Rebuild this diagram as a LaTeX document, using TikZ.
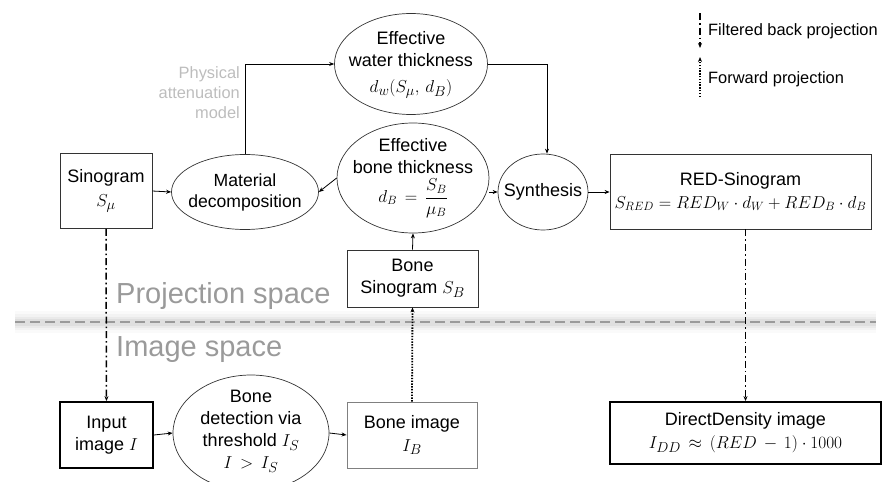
\documentclass[tikz,border=0pt]{standalone}
\usepackage{amsmath}
\usepackage{fontspec}
\setmainfont{Liberation Sans}
\usetikzlibrary{shapes.geometric,arrows.meta}

\definecolor{linegray}{HTML}{333333}
\definecolor{labelgray}{HTML}{BDBDBD}
\definecolor{spacegray}{HTML}{9A9A9A}

% math set at a chosen size inside text lines
\newcommand{\mth}[1]{{\fontsize{17}{21}\selectfont$#1$}}
\newcommand{\mthb}[1]{{\fontsize{19}{23}\selectfont$#1$}}

\tikzset{
  every node/.style={font=\fontsize{18}{22}\selectfont, align=center, inner sep=0pt},
  box/.style={draw=linegray, line width=0.8pt, rectangle},
  thickbox/.style={draw=black, line width=1.8pt, rectangle},
  graybox/.style={draw=gray, line width=0.9pt, rectangle},
  oval/.style={draw=linegray, line width=0.7pt, ellipse},
  tip/.style={-{Stealth[length=5pt,width=4pt]}},
  flow/.style={tip, line width=0.8pt, draw=black},
  fbp/.style={tip, line width=1.5pt, dash pattern=on 7pt off 3pt on 1.6pt off 3pt},
  fwd/.style={tip, line width=1.8pt, dash pattern=on 1.4pt off 1.4pt},
  smalltext/.style={font=\fontsize{16.4}{20}\selectfont},
}

\begin{document}
\begin{tikzpicture}[x=1pt, y=-1pt]
  \useasboundingbox (0,0) rectangle (892,482);

  % separator between projection space and image space, with a soft halo
  \foreach \w/\o in {22/0.04, 16/0.06, 11/0.08, 7/0.10} {
    \draw[line width=\w pt, gray, opacity=\o] (15,322) -- (876,322);
  }
  \draw[spacegray, line width=2pt, dash pattern=on 10pt off 5pt] (15,322) -- (876,322);

  \node[font=\fontsize{29}{32}\selectfont, text=spacegray, anchor=west] (proj) at (116,296) {Projection space};
  \node[font=\fontsize{29}{32}\selectfont, text=spacegray, anchor=west] (img) at (116,350) {Image space};

  % projection-space nodes (ovals keep a fixed size, their text sits on top)
  \node[box, minimum width=92pt, minimum height=75pt] (sino) at (106,191) {Sinogram\\[2pt]\mthb{S_\mu}};
  \node[oval, minimum width=147pt, minimum height=75pt] (matdec) at (245,192) {};
  \node[font=\fontsize{17.6}{21}\selectfont] (matdecT) at (matdec.center) {Material\\decomposition};
  \node[oval, minimum width=153pt, minimum height=101pt] (water) at (411,64) {};
  \node (waterT) at (411,65) {Effective\\water thickness\\[4pt]\mthb{d_w(S_\mu,\, d_B)}};
  \node[oval, minimum width=152pt, minimum height=110pt] (bone) at (413,178) {};
  \node (boneT) at (413,178) {Effective\\bone thickness\\[4pt]\mth{d_B \,=\, \dfrac{S_B}{\mu_B}}};
  \node[oval, minimum width=90pt, minimum height=76pt] (synth) at (543,192) {};
  \node (synthT) at (synth.center) {Synthesis};
  \node[box, minimum width=261pt, minimum height=75pt] (redsino) at (740.5,191.5) {RED-Sinogram\\[1pt]\mth{S_{RED} = RED_W \cdot d_W + RED_B \cdot d_B}};
  \node[box, minimum width=131pt, minimum height=57pt] (bonesino) at (412.5,278.5) {Bone\\Sinogram \mthb{S_B}};

  % image-space nodes
  \node[thickbox, minimum width=93pt, minimum height=66pt] (input) at (106.5,435) {Input\\image \mthb{I}};
  \node[oval, minimum width=156pt, minimum height=116pt] (detect) at (251,433) {};
  \node (detectT) at (251,431) {Bone\\detection via\\threshold \mthb{I_S}\\\mthb{I \,>\, I_S}};
  \node[graybox, minimum width=130pt, minimum height=66pt] (boneimg) at (412,435) {Bone image\\[1pt]\mthb{I_B}};
  \node[thickbox, minimum width=271pt, minimum height=62pt] (dd) at (745.5,433) {DirectDensity image\\[1pt]\mthb{I_{DD} \,\approx\, (RED \,-\, 1)\cdot 1000}};

  % label on the physical model path
  \node[smalltext, text=labelgray, align=right, anchor=east] (phys) at (240,93) {Physical\\attenuation\\model};

  % solid connectors
  \draw[flow] (sino.east) -- (matdec.west);
  \draw[flow] (bone.west) -- (matdec.east);
  \coordinate (bend1) at (matdec.north |- water.west);
  \draw[flow] (matdec.north) -- (bend1) -- (water.west);
  \coordinate (bend2) at (547,64);
  \draw[flow] (water.east) -- (bend2) -- (bend2 |- synth.north);
  \draw[flow] (bone.east |- synth.west) -- (synth.west);
  \draw[flow] (synth.east) -- (synth.east -| redsino.west);
  \draw[flow] (bonesino.north) -- (bone.south);
  \draw[flow] (input.east) -- (detect.west);
  \draw[flow] (detect.east) -- (boneimg.west);

  % reconstruction and projection connectors
  \draw[fbp] (sino.south) -- (input.north);
  \draw[fbp] (redsino.south -| dd.north) -- (dd.north);
  \draw[fwd] (boneimg.north) -- (bonesino.south);

  % legend
  \coordinate (lgA) at (700,13);
  \coordinate (lgB) at (700,48);
  \coordinate (lgC) at (700,97);
  \coordinate (lgD) at (700,57);
  \draw[fbp] (lgA) -- (lgB);
  \draw[fwd] (lgC) -- (lgD);
  \node[smalltext, anchor=west] (lgfbp) at (708,31) {Filtered back projection};
  \node[smalltext, anchor=west] (lgfwd) at (708,79) {Forward projection};
\end{tikzpicture}
\end{document}
